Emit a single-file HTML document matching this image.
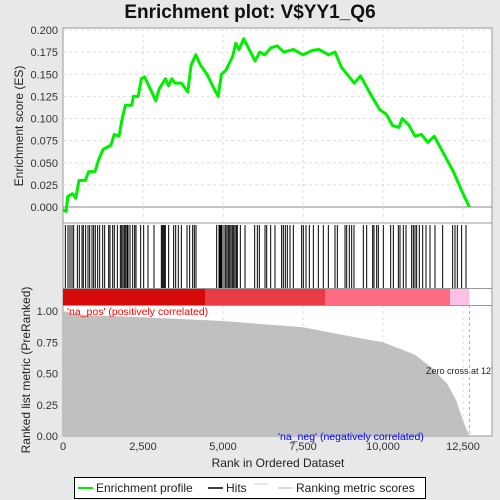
<!DOCTYPE html>
<html><head><meta charset="utf-8"><style>
body{margin:0;background:#e8e8e8;}
svg{display:block;font-family:"Liberation Sans",sans-serif;}
</style></head><body>
<svg id="c" width="500" height="500"></svg>
<script>
const esRanks=[0,100,150,300,400,500,700,800,1000,1100,1250,1500,1600,1750,1850,1950,2150,2200,2350,2450,2550,2900,3000,3200,3300,3400,3500,3700,3900,4000,4150,4300,4500,4700,4850,4950,5100,5300,5400,5500,5650,6000,6150,6300,6500,6700,6900,7200,7500,7800,8000,8300,8500,8700,9100,9300,9600,9900,10100,10300,10500,10600,10800,11000,11200,11400,11600,11900,12200,12500,12700];
const esValues=[-0.003,-0.005,0.012,0.015,0.01,0.03,0.03,0.04,0.04,0.052,0.065,0.07,0.082,0.08,0.1,0.115,0.115,0.125,0.125,0.145,0.147,0.12,0.133,0.145,0.137,0.145,0.14,0.14,0.13,0.16,0.172,0.16,0.15,0.135,0.125,0.15,0.155,0.17,0.185,0.178,0.19,0.165,0.175,0.172,0.18,0.182,0.175,0.178,0.172,0.177,0.178,0.172,0.175,0.158,0.14,0.148,0.128,0.11,0.105,0.092,0.09,0.1,0.093,0.08,0.082,0.073,0.08,0.06,0.04,0.015,0];
const hitRanks=[73,156,219,281,333,448,510,594,635,708,781,833,906,958,1010,1083,1146,1240,1302,1427,1469,1552,1604,1698,1792,1833,1875,1917,1958,2000,2031,2094,2177,2240,2281,2427,2521,2656,2844,3073,3104,3135,3167,3198,3302,3458,3521,3604,3698,3875,3958,4052,4104,4156,4802,4875,4906,4938,4969,5031,5083,5125,5167,5208,5250,5292,5333,5375,5417,5448,5542,5688,5990,6073,6135,6313,6365,6490,6625,6833,6885,6948,7010,7094,7198,7458,7510,7594,7698,7823,7979,8135,8292,8500,8573,8813,8865,8948,9021,9094,9385,9490,9677,9719,9802,9854,10010,10240,10323,10479,10531,10635,10719,10896,10948,11000,11052,11135,11240,11344,11469,11625,11865,12177,12250,12323,12458,12594];
const metricRanks=[0,500,2500,5000,7500,8500,10000,11000,11500,12000,12300,12500,12650,12700];
const metricValues=[1.0,0.97,0.95,0.92,0.87,0.82,0.75,0.65,0.55,0.42,0.28,0.12,0.03,0];
const esTicks=[0,0.025,0.05,0.075,0.1,0.125,0.15,0.175,0.2];
const mTicks=[0,0.25,0.5,0.75,1.0];
const xTicks=[0,2500,5000,7500,10000,12500];

const NS="http://www.w3.org/2000/svg";const svg=document.getElementById('c');
function mk(t,a,p){const e=document.createElementNS(NS,t);for(const k in a)e.setAttribute(k,a[k]);(p||svg).appendChild(e);return e;}
const L=63,R=492;
const X=r=>L+r*0.032;
const YE=v=>207-v*885;
const YM=v=>436-v*125;
const fmt=n=>n.toLocaleString('en-US');

let t=mk('text',{x:250,y:18,'text-anchor':'middle','font-size':19,'font-weight':'bold',fill:'#111'});t.textContent='Enrichment plot: V$YY1_Q6';

// panels
let p1=mk('rect',{x:L,y:28,width:R-L,height:195,fill:'#fff',stroke:'#999'});

let p2=mk('rect',{x:L,y:223,width:R-L,height:213,fill:'#fff',stroke:'#999'});

// grid
xTicks.forEach(v=>{if(v>0){mk('line',{x1:X(v),x2:X(v),y1:28,y2:223,stroke:'#ddd','stroke-dasharray':'3,3'});mk('line',{x1:X(v),x2:X(v),y1:305,y2:436,stroke:'#ddd','stroke-dasharray':'3,3'});}});
esTicks.forEach(v=>{mk('line',{x1:L,x2:R,y1:YE(v),y2:YE(v),stroke:'#ddd','stroke-dasharray':'3,3'});
 let tt=mk('text',{x:58,y:YE(v)+4,'text-anchor':'end','font-size':11,fill:'#333'});tt.textContent=v.toFixed(3);
 });
mk('line',{x1:L,x2:R,y1:YE(0),y2:YE(0),stroke:'#888'});
// ES curve
let d=esRanks.map((r,i)=>(i?'L':'M')+X(r).toFixed(1)+','+YE(esValues[i]).toFixed(1)).join('');
let es=mk('path',{d:d,fill:'none',stroke:'#00ee00','stroke-width':3,'stroke-linejoin':'round'});

// hits
hitRanks.forEach(r=>{let h=mk('line',{x1:X(r),x2:X(r),y1:225,y2:288,stroke:'#000','stroke-width':1});
 });
// color bar
const segs=[[0,4450,'#d60a0a'],[4450,8200,'#ea3c44'],[8200,12100,'#ff6c80'],[12100,12700,'#ffc0e6']];
segs.forEach(s=>{let b=mk('rect',{x:X(s[0]),y:289,width:X(s[1])-X(s[0]),height:16,fill:s[2]});
 });
mk('line',{x1:L,x2:R,y1:288.5,y2:288.5,stroke:'#999'});mk('line',{x1:L,x2:R,y1:305.5,y2:305.5,stroke:'#999'});
// metric area
let md='M'+X(0)+','+YM(0)+metricRanks.map((r,i)=>'L'+X(r).toFixed(1)+','+YM(metricValues[i]).toFixed(1)).join('')+'Z';
let ma=mk('path',{d:md,fill:'#c0c0c0'});

mk('line',{x1:X(12700),x2:X(12700),y1:305,y2:436,stroke:'#aaa','stroke-dasharray':'3,3'});
mTicks.forEach(v=>{let tt=mk('text',{x:58,y:YM(v)+4,'text-anchor':'end','font-size':11,fill:'#333'});tt.textContent=v.toFixed(2);
 });
xTicks.forEach(v=>{let tt=mk('text',{x:X(v),y:450,'text-anchor':'middle','font-size':11,fill:'#333'});tt.textContent=fmt(v);
 });
t=mk('text',{x:67,y:315,'font-size':10.5,fill:'#f00'});t.textContent="'na_pos' (positively correlated)";

t=mk('text',{x:278,y:440,'font-size':10.5,fill:'#00f'});t.textContent="'na_neg' (negatively correlated)";

t=mk('text',{x:426,y:374,'font-size':9,fill:'#222'});t.textContent="Zero cross at 12700";

mk('rect',{x:492.5,y:0,width:8,height:500,fill:'#e8e8e8'});
t=mk('text',{x:278,y:467,'text-anchor':'middle','font-size':12,fill:'#222'});t.textContent='Rank in Ordered Dataset';

t=mk('text',{x:0,y:0,'text-anchor':'middle','font-size':12,fill:'#222',transform:'translate(23,126) rotate(-90)'});t.textContent='Enrichment score (ES)';

t=mk('text',{x:0,y:0,'text-anchor':'middle','font-size':12,fill:'#222',transform:'translate(30,370) rotate(-90)'});t.textContent='Ranked list metric (PreRanked)';

// legend
let lg=mk('g',{});
mk('rect',{x:74.5,y:477.5,width:351,height:21,fill:'#fff',stroke:'#000'},lg);
mk('line',{x1:78,x2:93,y1:488,y2:488,stroke:'#00ee00','stroke-width':2},lg);
t=mk('text',{x:96,y:492,'font-size':12,fill:'#222'},lg);t.textContent='Enrichment profile';

mk('line',{x1:208,x2:223,y1:488,y2:488,stroke:'#000','stroke-width':1.5},lg);
t=mk('text',{x:226,y:492,'font-size':12,fill:'#222'},lg);t.textContent='Hits';

mk('line',{x1:254,x2:268,y1:484,y2:484,stroke:'#ccc'},lg);
mk('line',{x1:278,x2:293,y1:488,y2:488,stroke:'#bbb'},lg);
t=mk('text',{x:296,y:492,'font-size':12,fill:'#222'},lg);t.textContent='Ranking metric scores';

</script>
</body></html>
